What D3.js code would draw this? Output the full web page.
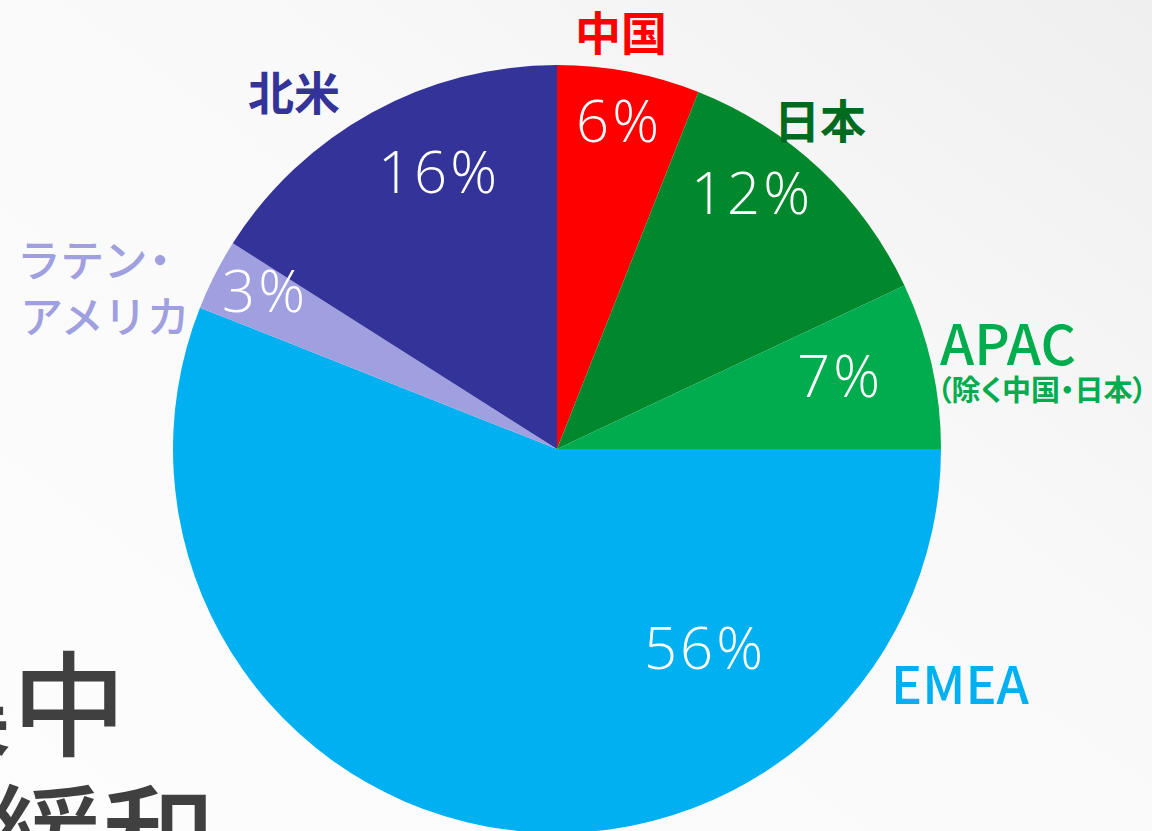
<!DOCTYPE html>
<html lang="ja">
  <head>
    <meta charset="UTF-8" />
    <title>地域別構成比</title>
    <style>
      body { margin: 0; overflow: hidden; }
      .palt { font-feature-settings: "palt"; }
    </style>
  </head>
  <body>
    <script src="https://cdn.jsdelivr.net/npm/d3@7"></script>
    <script>
      const width = 1152
      const height = 831

      // データ（時計回り、12時の位置から）
      const regions = ["中国", "日本", "APAC", "EMEA", "ラテン・アメリカ", "北米"]
      const shares = [6, 12, 7, 56, 3, 16]
      const sliceColors = ["#ff0000", "#02882c", "#00ac4e", "#00b0f0", "#a09fdf", "#333399"]
      const labelColors = ["#ff0000", "#006a1f", "#00ac4e", "#00b0f0", "#a09fdf", "#333399"]

      // ラベルの配置（円の中心からの相対位置）
      const pctPos = [[60, -328], [193, -256], [281, -73], [146, 199], [-294, -158], [-120, -277]]
      const namePos = [[64, -415], [263, -327], [451, -103], [403, 237], [-537, -187], [-263, -355]]

      const cx = 557
      const cy = 449
      const radius = 384

      const svg = d3.select("body").append("svg")
        .attr("width", width)
        .attr("height", height)

      // 背景
      const grad = svg.append("defs").append("linearGradient")
        .attr("id", "bg")
        .attr("x1", "0").attr("y1", "1").attr("x2", "1").attr("y2", "0")
      grad.append("stop").attr("offset", "0").attr("stop-color", "#fdfdfd")
      grad.append("stop").attr("offset", "0.6").attr("stop-color", "#f9f9f9")
      grad.append("stop").attr("offset", "1").attr("stop-color", "#efefef")
      svg.append("rect").attr("width", width).attr("height", height).attr("fill", "url(#bg)")

      // 後ろのスライドの見出し（一部だけ見えている）
      const bgText = svg.append("g")
        .attr("font-family", "'Noto Sans CJK JP', sans-serif")
        .attr("font-weight", 500)
        .attr("font-size", 114)
        .attr("fill", "#404040")
        .attr("text-anchor", "end")
      bgText.append("text").attr("x", 126).attr("y", 747).text("集中")
      bgText.append("text").attr("x", 216).attr("y", 880).text("緩和")

      const pie = d3.pie().sort(null).value(d => d)
      const arcs = pie(shares)
      const arc = d3.arc().innerRadius(0).outerRadius(radius)

      const g = svg.append("g").attr("transform", `translate(${cx},${cy})`)

      g.selectAll("path")
        .data(arcs)
        .enter()
        .append("path")
        .attr("d", arc)
        .attr("fill", (d, i) => sliceColors[i])

      // パーセント
      g.selectAll("text.pct")
        .data(arcs)
        .enter()
        .append("text")
        .attr("class", "pct")
        .attr("x", (d, i) => pctPos[i][0] + 2)
        .attr("y", (d, i) => pctPos[i][1])
        .attr("dy", "0.36em")
        .attr("text-anchor", "middle")
        .attr("font-family", "'Open Sans', sans-serif")
        .attr("font-weight", 300)
        .attr("font-size", 58)
        .attr("letter-spacing", 3)
        .attr("fill", "#fff")
        .text(d => d.data + "%")

      // 地域名
      const names = g.selectAll("g.name")
        .data(arcs)
        .enter()
        .append("g")
        .attr("class", "name")
        .attr("transform", (d, i) => `translate(${namePos[i][0]},${namePos[i][1]})`)
        .attr("font-family", "'Noto Sans CJK JP', sans-serif")
        .attr("fill", (d, i) => labelColors[i])

      names.each(function (d, i) {
        const el = d3.select(this)
        const name = regions[i]
        if (name === "ラテン・アメリカ") {
          el.append("text").attr("class", "palt").attr("font-size", 44).attr("font-weight", 500)
            .attr("letter-spacing", 4).attr("dy", "0.35em").text("ラテン・")
          el.append("text").attr("font-size", 43).attr("font-weight", 500)
            .attr("y", 56).attr("dy", "0.35em").text("アメリカ")
        } else if (name === "APAC") {
          el.append("text").attr("font-size", 55).attr("font-weight", 500)
            .attr("text-anchor", "middle").attr("dy", "0.35em").text("APAC")
          el.append("text").attr("class", "palt").attr("font-size", 29).attr("font-weight", 700)
            .attr("text-anchor", "middle").attr("x", 34).attr("y", 45)
            .attr("dy", "0.35em").text("（除く中国・日本）")
        } else if (name === "EMEA") {
          el.append("text").attr("font-size", 52).attr("font-weight", 500)
            .attr("text-anchor", "middle").attr("dy", "0.35em").text(name)
        } else {
          el.append("text").attr("font-size", 46).attr("font-weight", 700)
            .attr("text-anchor", "middle").attr("dy", "0.35em").text(name)
        }
      })
    </script>
  </body>
</html>
